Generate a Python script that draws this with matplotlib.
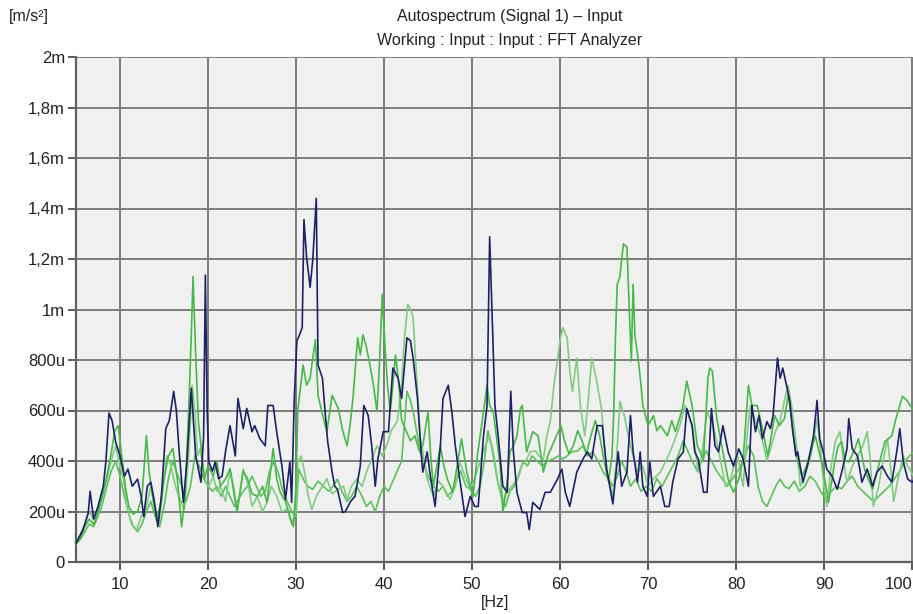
import numpy as np
import matplotlib
matplotlib.use("Agg")
import matplotlib.pyplot as plt
from matplotlib.ticker import FixedLocator, FuncFormatter

plt.rcParams["font.family"] = ["Liberation Sans", "DejaVu Sans"]

# autospectrum traces, amplitude in u(m/s^2) ---------------------------
navy_hz = [5.0, 5.2, 5.8, 6.4, 6.6, 7.0, 7.5, 8.1, 8.4, 8.75, 9.1, 9.5, 10.0, 10.5, 10.9,
           11.4, 12.0, 12.4, 12.7, 13.1, 13.5, 13.9, 14.3, 14.7, 15.2, 15.6, 16.1, 16.4,
           16.7, 17.2, 17.6, 18.1, 18.6, 19.2, 19.5, 19.7, 19.9, 20.1, 20.5, 20.8, 21.2,
           21.6, 22.0, 22.5, 23.1, 23.4, 24.0, 24.4, 25.0, 25.3, 25.9, 26.5, 26.8, 27.4,
           27.8, 28.4, 28.8, 29.3, 29.5, 29.8, 30.1, 30.4, 30.7, 30.9, 31.2, 31.6, 31.9,
           32.3, 32.5, 33.0, 33.3, 33.6, 34.1, 34.4, 34.7, 35.3, 35.6, 36.2, 36.7, 37.3,
           37.7, 38.2, 38.6, 39.0, 39.3, 39.9, 40.5, 41.0, 41.6, 42.0, 42.6, 43.0, 43.3,
           43.8, 44.1, 44.4, 44.9, 45.2, 45.8, 46.4, 46.7, 47.3, 47.7, 48.1, 48.6, 49.2,
           49.8, 50.3, 50.7, 51.3, 51.7, 52.0, 52.4, 52.6, 53.0, 53.5, 54.0, 54.4, 54.7,
           55.1, 55.7, 56.2, 56.5, 56.9, 57.7, 58.3, 58.9, 59.7, 60.2, 60.6, 61.1, 61.9,
           62.6, 63.1, 63.6, 64.2, 64.8, 65.3, 66.0, 66.6, 67.0, 67.6, 68.0, 68.3, 68.8,
           69.1, 69.4, 69.9, 70.2, 70.6, 71.4, 71.9, 72.4, 72.8, 73.4, 74.0, 74.4, 75.0,
           75.3, 75.7, 76.3, 76.7, 77.2, 77.6, 78.0, 78.5, 79.1, 79.7, 80.3, 80.8, 81.4,
           81.8, 82.2, 82.6, 83.0, 83.5, 83.9, 84.2, 84.7, 85.0, 85.3, 85.8, 86.1, 86.4,
           86.8, 87.0, 87.6, 88.2, 88.8, 89.2, 89.5, 89.9, 90.3, 90.9, 91.5, 92.0, 92.6,
           92.8, 93.2, 93.8, 94.3, 94.9, 95.5, 96.0, 96.6, 97.2, 97.7, 98.3, 98.6, 99.0,
           99.5, 100.0, 100.3]
navy_u = [75, 88, 128, 196, 280, 170, 220, 300, 400, 590, 560, 476, 420, 340, 368,
          300, 328, 260, 180, 300, 316, 240, 140, 260, 528, 560, 676, 600,
          448, 236, 400, 688, 420, 316, 500, 1136, 600, 396, 360, 396, 330,
          340, 440, 540, 420, 648, 528, 608, 516, 540, 488, 460, 620, 620,
          516, 380, 248, 396, 236, 648, 876, 900, 928, 1356, 1208, 1088, 1196,
          1440, 780, 728, 596, 476, 356, 300, 288, 196, 200, 240, 260, 380,
          620, 580, 460, 300, 408, 516, 516, 768, 728, 648, 888, 876, 808,
          648, 488, 356, 436, 356, 220, 460, 648, 700, 596, 460, 328, 180,
          260, 220, 220, 500, 620, 1288, 836, 620, 488, 300, 276, 676, 436,
          276, 196, 196, 128, 236, 208, 276, 276, 328, 368, 276, 220, 356,
          408, 436, 408, 540, 540, 368, 230, 436, 300, 356, 580, 436, 316,
          436, 300, 260, 396, 260, 300, 220, 220, 316, 408, 436, 608, 540,
          436, 408, 276, 276, 608, 460, 436, 540, 436, 380, 448, 408, 300,
          620, 516, 580, 488, 556, 528, 580, 808, 728, 768, 688, 636, 528,
          420, 436, 316, 396, 500, 640, 488, 436, 368, 340, 288, 356, 448,
          568, 448, 420, 316, 368, 300, 356, 380, 340, 316, 448, 528, 396,
          328, 316, 330]

green1_hz = [5.0, 5.5, 6.0, 6.5, 7.0, 7.5, 8.0, 8.5, 9.0, 9.4, 9.8, 10.2, 10.6, 11.0, 11.5,
             12.0, 12.5, 13.0, 13.3, 13.8, 14.2, 14.6, 15.0, 15.5, 16.0, 16.5, 17.0, 17.4,
             17.8, 18.1, 18.3, 18.6, 18.9, 19.2, 19.6, 20.0, 20.6, 21.0, 21.4, 22.0, 22.5,
             23.0, 23.3, 24.0, 24.5, 25.0, 25.6, 26.2, 26.7, 27.4, 27.8, 28.2, 28.8, 29.3,
             29.7, 30.0, 30.2, 30.8, 31.2, 31.6, 31.9, 32.2, 32.5, 32.9, 33.5, 34.1, 34.8,
             35.3, 35.8, 36.2, 36.5, 37.0, 37.3, 37.6, 38.0, 38.4, 38.8, 39.2, 39.5, 39.8,
             40.1, 40.4, 40.7, 41.0, 41.3, 41.7, 42.0, 42.5, 43.0, 43.5, 44.0, 44.4, 45.0,
             45.3, 45.6, 46.0, 46.4, 46.8, 47.2, 47.8, 48.3, 48.8, 49.4, 50.1, 50.6, 51.3,
             51.7, 52.0, 52.4, 52.8, 53.2, 53.5, 54.0, 54.3, 54.7, 55.1, 55.5, 55.7, 56.2,
             56.9, 57.5, 58.1, 58.6, 59.1, 59.6, 60.1, 60.5, 61.0, 61.5, 62.0, 62.5, 63.0,
             63.5, 64.0, 64.5, 65.0, 65.5, 65.9, 66.1, 66.3, 66.5, 66.8, 67.0, 67.2, 67.6,
             67.9, 68.1, 68.3, 68.5, 68.9, 69.2, 69.4, 70.0, 70.6, 71.0, 71.4, 72.2, 72.7,
             73.1, 73.5, 73.9, 74.4, 75.0, 75.6, 76.3, 76.8, 77.0, 77.3, 77.8, 78.5, 79.1,
             79.7, 80.3, 80.8, 81.4, 81.8, 82.4, 83.0, 83.6, 84.0, 84.4, 84.9, 85.5, 85.9,
             86.2, 86.6, 87.0, 87.5, 88.0, 88.5, 89.0, 89.7, 90.2, 90.5, 91.2, 91.6, 92.0,
             92.4, 92.8, 93.4, 93.9, 94.6, 95.0, 95.5, 96.1, 96.9, 97.7, 98.1, 98.4, 98.9,
             99.4, 100.0, 100.3]
green1_u = [70, 95, 140, 170, 150, 200, 260, 340, 430, 520, 540, 420, 300, 220, 190,
            200, 260, 500, 360, 240, 170, 230, 330, 420, 450, 330, 140, 260,
            600, 900, 1130, 820, 560, 460, 330, 380, 340, 400, 300, 330, 370,
            260, 200, 360, 330, 270, 260, 300, 236, 450, 330, 276, 240, 180,
            140, 300, 600, 780, 700, 728, 808, 880, 660, 600, 516, 660, 608,
            520, 460, 560, 660, 888, 820, 900, 850, 780, 700, 596, 800, 1060,
            860, 700, 596, 700, 820, 700, 560, 520, 480, 500, 440, 460, 596,
            420, 300, 380, 460, 380, 328, 276, 380, 488, 356, 260, 420, 596,
            700, 620, 596, 488, 380, 196, 320, 436, 460, 500, 608, 620, 436,
            516, 500, 356, 420, 460, 500, 540, 480, 430, 460, 520, 480, 430,
            500, 560, 500, 400, 320, 420, 596, 900, 1100, 1130, 1200, 1260, 1248,
            968, 796, 1100, 900, 796, 700, 620, 540, 580, 520, 540, 500, 560,
            516, 560, 608, 716, 620, 460, 408, 728, 768, 756, 568, 436, 328,
            276, 328, 408, 700, 620, 620, 528, 420, 500, 580, 540, 568, 660,
            600, 480, 400, 340, 380, 440, 500, 396, 300, 236, 396, 460, 476,
            400, 396, 440, 488, 368, 330, 288, 368, 476, 500, 560, 596, 656,
            640, 608, 600]

green2_hz = [5.0, 5.5, 6.0, 6.5, 7.0, 7.5, 8.0, 8.5, 9.0, 9.5, 10.0, 10.4, 10.8, 11.3, 11.9,
             12.4, 13.0, 13.5, 14.0, 14.4, 14.8, 15.3, 15.8, 16.3, 16.8, 17.3, 17.8, 18.2,
             18.5, 18.8, 19.1, 19.7, 20.1, 20.6, 21.0, 21.4, 22.0, 22.5, 23.0, 23.3, 24.0,
             24.6, 25.0, 25.6, 26.2, 26.7, 27.2, 27.8, 28.4, 29.0, 29.5, 30.0, 30.2, 30.6,
             31.0, 31.4, 31.8, 32.3, 33.0, 33.5, 34.1, 34.8, 35.4, 35.8, 36.3, 36.9, 37.5,
             38.0, 38.5, 39.2, 39.8, 40.3, 40.8, 41.5, 42.0, 42.3, 42.7, 43.0, 43.3, 43.8,
             44.1, 44.4, 44.9, 45.6, 46.2, 46.7, 47.5, 48.1, 48.6, 49.2, 49.8, 50.3, 50.9,
             51.5, 52.0, 52.5, 53.0, 53.5, 54.0, 54.5, 55.1, 55.6, 56.1, 56.6, 57.2, 57.6,
             58.1, 58.5, 58.9, 59.3, 59.7, 60.0, 60.3, 60.8, 61.1, 61.4, 61.9, 62.3, 62.8,
             63.2, 63.6, 64.1, 64.7, 65.0, 65.3, 65.7, 66.0, 66.4, 66.8, 67.3, 68.0, 68.8,
             69.4, 70.0, 70.6, 71.4, 72.0, 72.5, 73.0, 73.6, 74.2, 75.0, 75.7, 76.2, 76.7,
             77.4, 78.2, 78.8, 79.4, 80.1, 80.8, 81.2, 81.6, 82.0, 82.4, 83.0, 83.5, 84.0,
             84.5, 85.0, 85.5, 85.9, 86.3, 86.8, 87.3, 87.8, 88.5, 89.2, 89.6, 90.0, 90.3,
             90.8, 91.3, 91.8, 92.2, 92.6, 93.2, 93.8, 94.4, 94.9, 95.2, 95.6, 96.2, 96.7,
             97.2, 97.6, 97.9, 98.4, 99.0, 99.5, 100.0, 100.3]
green2_u = [75, 110, 150, 200, 170, 210, 270, 330, 400, 460, 380, 330, 220, 150, 128,
            180, 220, 300, 200, 150, 260, 420, 380, 300, 250, 208, 420, 700,
            600, 420, 448, 316, 300, 340, 280, 300, 240, 368, 280, 196, 368,
            300, 220, 260, 200, 236, 300, 260, 200, 210, 150, 200, 396, 420,
            350, 260, 208, 260, 300, 330, 270, 288, 300, 248, 300, 328, 300,
            356, 400, 460, 420, 460, 520, 556, 700, 880, 1020, 1000, 968, 676,
            500, 436, 328, 260, 320, 300, 248, 300, 396, 340, 288, 330, 396,
            460, 500, 420, 300, 240, 280, 300, 328, 380, 400, 436, 440, 420,
            408, 500, 560, 700, 796, 880, 928, 888, 760, 676, 808, 620, 500,
            640, 808, 728, 608, 480, 356, 300, 260, 400, 636, 580, 460, 356,
            380, 300, 328, 356, 400, 436, 480, 540, 620, 540, 356, 450, 596,
            540, 408, 300, 328, 436, 300, 480, 620, 580, 540, 480, 400, 460,
            520, 560, 640, 700, 620, 480, 300, 340, 420, 568, 440, 300, 220,
            380, 480, 516, 400, 316, 380, 420, 460, 516, 420, 220, 300, 400,
            488, 360, 240, 330, 420, 380, 350, 330]

green3_hz = [5.0, 5.5, 6.0, 6.5, 7.0, 7.5, 8.0, 8.5, 9.0, 9.5, 10.0, 10.5, 11.0, 11.5, 12.0,
             12.5, 13.0, 13.5, 14.0, 14.5, 15.0, 15.5, 16.0, 16.5, 17.0, 17.5, 18.0, 18.5,
             19.0, 19.5, 20.0, 20.5, 21.0, 21.5, 22.0, 22.5, 23.0, 23.5, 24.0, 24.5, 25.0,
             25.5, 26.0, 26.5, 27.0, 27.5, 28.0, 28.5, 29.0, 29.5, 30.0, 30.3, 30.8, 31.3,
             31.9, 32.5, 33.1, 33.7, 34.2, 34.7, 35.2, 35.8, 36.3, 36.9, 37.5, 38.0, 38.5,
             39.0, 39.5, 40.0, 40.5, 41.0, 41.5, 42.0, 42.6, 43.0, 43.3, 43.8, 44.1, 44.6,
             45.0, 45.6, 46.2, 46.7, 47.2, 47.7, 48.2, 48.7, 49.3, 49.8, 50.4, 50.9, 51.4,
             51.8, 52.2, 52.8, 53.3, 53.8, 54.3, 54.8, 55.3, 55.8, 56.3, 56.8, 57.4, 58.0,
             58.6, 59.2, 59.8, 60.3, 60.8, 61.3, 62.0, 62.6, 63.1, 63.7, 64.3, 64.9, 65.5,
             66.0, 66.5, 67.0, 67.5, 68.0, 68.6, 69.2, 69.8, 70.4, 71.0, 71.6, 72.2, 72.8,
             73.4, 74.0, 74.5, 75.0, 75.6, 76.1, 76.6, 77.2, 77.8, 78.4, 79.0, 79.6, 80.2,
             80.8, 81.4, 82.0, 82.5, 83.0, 83.5, 84.0, 84.5, 85.0, 85.5, 86.0, 86.6, 87.2,
             87.8, 88.4, 89.0, 89.6, 90.2, 90.8, 91.4, 92.0, 92.6, 93.2, 93.8, 94.4, 95.0,
             95.6, 96.2, 96.8, 97.4, 98.0, 98.6, 99.2, 99.7, 100.3]
green3_u = [70, 90, 120, 150, 140, 180, 230, 300, 360, 400, 340, 260, 190, 140, 120,
            150, 200, 240, 180, 140, 220, 330, 400, 350, 300, 240, 300, 420,
            380, 330, 300, 280, 300, 260, 300, 260, 220, 250, 280, 300, 340,
            300, 260, 280, 360, 400, 350, 280, 240, 200, 180, 368, 330, 300,
            288, 320, 300, 280, 300, 328, 280, 240, 260, 300, 260, 220, 240,
            200, 260, 300, 280, 320, 360, 400, 676, 640, 596, 500, 436, 380,
            340, 300, 280, 300, 260, 280, 320, 360, 300, 288, 260, 300, 400,
            520, 460, 340, 260, 220, 280, 300, 340, 400, 380, 420, 400, 380,
            400, 408, 420, 408, 420, 436, 440, 460, 420, 436, 400, 356, 330,
            300, 340, 400, 360, 300, 330, 280, 300, 280, 330, 300, 340, 380,
            420, 480, 440, 400, 360, 400, 440, 400, 360, 330, 300, 330, 360,
            400, 460, 420, 300, 240, 220, 260, 300, 328, 300, 290, 320, 280,
            300, 340, 320, 280, 250, 280, 300, 290, 320, 340, 300, 280, 260,
            240, 260, 280, 300, 330, 360, 400, 420, 440]

y_ticks_u = [0, 200, 400, 600, 800, 1000, 1200, 1400, 1600, 1800, 2000]
y_tick_labels = ["0", "200u", "400u", "600u", "800u", "1m", "1,2m", "1,4m", "1,6m", "1,8m", "2m"]
x_ticks = [10, 20, 30, 40, 50, 60, 70, 80, 90, 100]

fig = plt.figure(figsize=(9.13, 6.14), dpi=100)
ax = fig.add_axes([76 / 913, 52 / 614, 1 - 76 / 913, 505 / 614])
ax.set_facecolor("#f0f0f0")

greens = [
    (green3_hz, green3_u, "#5cc05c"),
    (green2_hz, green2_u, "#80cc80"),
    (green1_hz, green1_u, "#48b848"),
]
for hz, u, col in greens:
    ax.plot(hz, np.array(u) * 1e-6, color=col, lw=1.2, zorder=3)
ax.plot(navy_hz, np.array(navy_u) * 1e-6, color="#1e2266", lw=1.2, zorder=4)

ax.set_xlim(5.0, 100.1)
ax.set_ylim(0, 2e-3)
ax.yaxis.set_major_locator(FixedLocator([v * 1e-6 for v in y_ticks_u]))
ax.yaxis.set_major_formatter(FuncFormatter(lambda v, pos: y_tick_labels[pos]))
ax.set_xticks(x_ticks)
ax.set_xticklabels([str(t) for t in x_ticks])
ax.get_xticklabels()[-1].set_horizontalalignment("right")
ax.grid(True, color="#7c7c7c", lw=1.4, zorder=1)
ax.set_axisbelow(True)
for side in ("top", "right"):
    ax.spines[side].set_visible(False)
for side in ("left", "bottom"):
    ax.spines[side].set_color("#606060")
    ax.spines[side].set_linewidth(1.6)
ax.tick_params(axis="both", direction="out", length=6, width=1.2, color="#404040",
               labelsize=12, labelcolor="#222222", pad=2)
ax.tick_params(axis="x", pad=5)

fig.text(510 / 913, 1 - 17 / 614, "Autospectrum (Signal 1) \u2013 Input", ha="center",
         va="center", fontsize=11.5, color="#222222")
fig.text(510 / 913, 1 - 41 / 614, "Working : Input : Input : FFT Analyzer", ha="center",
         va="center", fontsize=11.5, color="#222222")
fig.text(9 / 913, 1 - 17 / 614, "[m/s\u00b2]", ha="left", va="center", fontsize=11.5,
         color="#222222")
fig.text(495 / 913, 1 - 603 / 614, "[Hz]", ha="center", va="center", fontsize=11.5,
         color="#222222")

fig.savefig("out.png", dpi=100)
